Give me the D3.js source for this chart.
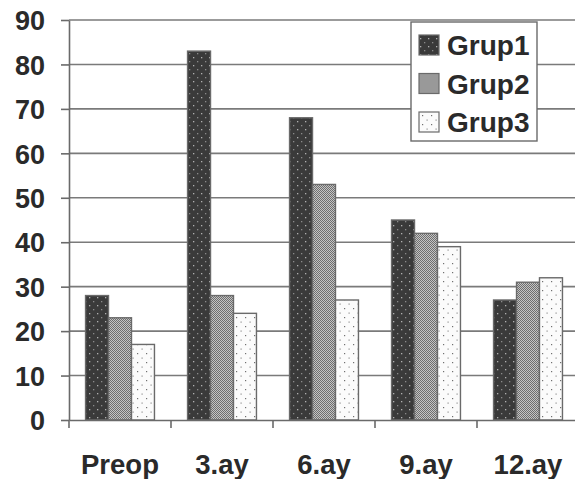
<!DOCTYPE html>
<html>
<head>
<meta charset="utf-8">
<script src="https://cdn.jsdelivr.net/npm/d3@7"></script>
<style>
  html, body { margin: 0; padding: 0; background: #fff; }
  svg { display: block; }
  text { font-family: "Liberation Sans", Arial, sans-serif; font-weight: bold; fill: #2a2a2a; }
</style>
</head>
<body>
<svg id="chart" width="575" height="479"></svg>
<script>
const categories = ["Preop", "3.ay", "6.ay", "9.ay", "12.ay"];
const seriesNames = ["Grup1", "Grup2", "Grup3"];
const grup1 = [28, 83, 68, 45, 27];
const grup2 = [23, 28, 53, 42, 31];
const grup3 = [17, 24, 27, 39, 32];
const yTicks = [0, 10, 20, 30, 40, 50, 60, 70, 80, 90];

const seriesValues = [grup1, grup2, grup3];
const svg = d3.select("#chart");
const margin = { left: 69, top: 20, right: -4, bottom: 59 };
const W = 575, H = 479;

const x = d3.scaleBand().domain(categories).range([margin.left, W - margin.right]).paddingInner(0).paddingOuter(0);
const xs = d3.scaleBand().domain(seriesNames).range([0, x.bandwidth()]).paddingInner(0).paddingOuter(0.72);
const y = d3.scaleLinear().domain([0, 90]).range([H - margin.bottom, margin.top]);

// patterns
const defs = svg.append("defs");
const p1 = defs.append("pattern").attr("id", "pat0").attr("patternUnits", "userSpaceOnUse").attr("width", 8).attr("height", 8);
p1.append("rect").attr("width", 8).attr("height", 8).attr("fill", "#3a3a3a");
p1.append("rect").attr("x", 1).attr("y", 1).attr("width", 1.3).attr("height", 1.3).attr("fill", "#b0b0b0");
p1.append("rect").attr("x", 5).attr("y", 5).attr("width", 1.3).attr("height", 1.3).attr("fill", "#8a8a8a");

const p2 = defs.append("pattern").attr("id", "pat1").attr("patternUnits", "userSpaceOnUse").attr("width", 2).attr("height", 2);
p2.append("rect").attr("width", 2).attr("height", 2).attr("fill", "#c4c4c4");
p2.append("rect").attr("x", 0).attr("y", 0).attr("width", 1).attr("height", 1).attr("fill", "#6e6e6e");
p2.append("rect").attr("x", 1).attr("y", 1).attr("width", 1).attr("height", 1).attr("fill", "#6e6e6e");

const p3 = defs.append("pattern").attr("id", "pat2").attr("patternUnits", "userSpaceOnUse").attr("width", 9).attr("height", 9);
p3.append("rect").attr("width", 9).attr("height", 9).attr("fill", "#fbfbfb");
p3.append("rect").attr("x", 2).attr("y", 2).attr("width", 1.2).attr("height", 1.2).attr("fill", "#707070");
p3.append("rect").attr("x", 6.5).attr("y", 6.5).attr("width", 1.2).attr("height", 1.2).attr("fill", "#909090");

// gridlines
svg.append("g").selectAll("line").data(yTicks.filter(d => d > 0)).join("line")
  .attr("x1", margin.left).attr("x2", W)
  .attr("y1", d => y(d)).attr("y2", d => y(d))
  .attr("stroke", "#7a7a7a").attr("stroke-width", 1.6);

// bars
const groups = svg.append("g").selectAll("g").data(seriesNames).join("g")
  .attr("fill", (d, i) => `url(#pat${i})`);
groups.selectAll("rect").data((s, i) => categories.map((c, j) => ({ c, s, v: seriesValues[i][j] }))).join("rect")
  .attr("x", d => x(d.c) + xs(d.s))
  .attr("width", xs.bandwidth())
  .attr("y", d => y(d.v))
  .attr("height", d => y(0) - y(d.v))
  .attr("stroke", "#6a6a6a").attr("stroke-width", 1.4);

// y axis
const yAxis = svg.append("g").attr("transform", `translate(${margin.left},0)`)
  .call(d3.axisLeft(y).tickValues(yTicks).tickSize(8).tickSizeOuter(0).tickPadding(16));
yAxis.select(".domain").attr("stroke", "#6a6a6a").attr("stroke-width", 1.6);
yAxis.selectAll(".tick line").attr("stroke", "#6a6a6a").attr("stroke-width", 1.6);
yAxis.selectAll(".tick text").attr("font-size", 27).attr("fill", "#2a2a2a").attr("dy", "0.36em")
  .attr("font-family", "Liberation Sans, Arial, sans-serif").attr("font-weight", "bold");

// x axis
const xAxis = svg.append("g").attr("transform", `translate(0,${y(0)})`)
  .call(d3.axisBottom(x).tickSize(0).tickSizeOuter(0).tickPadding(34));
xAxis.select(".domain").attr("stroke", "#6a6a6a").attr("stroke-width", 1.6);
xAxis.selectAll(".tick text").attr("font-size", 27.5).attr("fill", "#2a2a2a")
  .attr("font-family", "Liberation Sans, Arial, sans-serif").attr("font-weight", "bold");
// category separator ticks
svg.append("g").selectAll("line").data(categories).join("line")
  .attr("x1", d => x(d)).attr("x2", d => x(d))
  .attr("y1", y(0)).attr("y2", y(0) + 8)
  .attr("stroke", "#6a6a6a").attr("stroke-width", 1.6);

// legend
const lg = svg.append("g").attr("transform", "translate(411,22)");
lg.append("rect").attr("width", 126).attr("height", 119).attr("fill", "#fff")
  .attr("stroke", "#6a6a6a").attr("stroke-width", 1.4);
const rows = lg.selectAll("g.row").data(seriesNames).join("g").attr("class", "row")
  .attr("transform", (d, i) => `translate(0,${23 + i * 38.5})`);
rows.append("rect").attr("x", 8).attr("y", -10).attr("width", 20).attr("height", 20)
  .attr("fill", (d, i) => `url(#pat${i})`).attr("stroke", "#6a6a6a").attr("stroke-width", 1.2);
rows.append("text").attr("x", 36).attr("y", 10).attr("font-size", 28).text(d => d);
</script>
</body>
</html>
